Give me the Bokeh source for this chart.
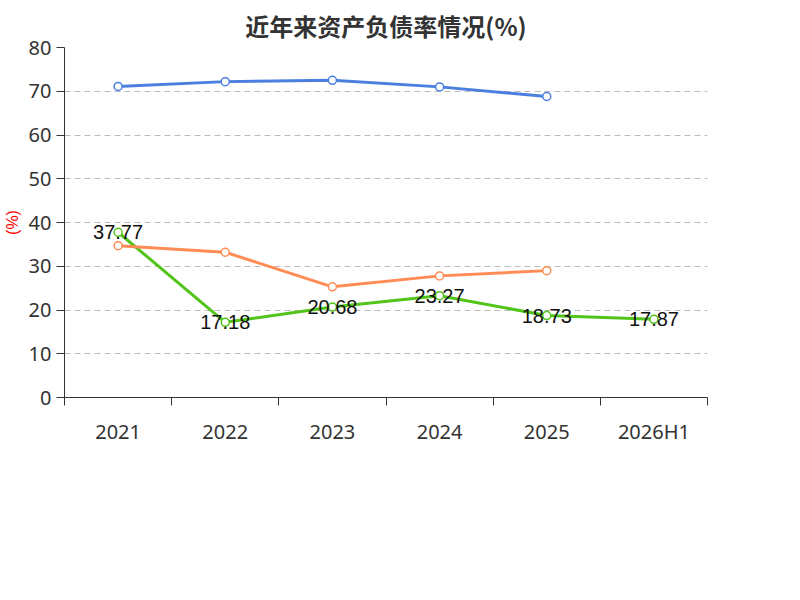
from bokeh.plotting import figure
from bokeh.models import FixedTicker, Legend, LegendItem, Title, ColumnDataSource, Range1d
from bokeh.embed import file_html
from bokeh.resources import INLINE

categories = ["2021", "2022", "2023", "2024", "2025", "2026H1"]
company = [37.77, 17.18, 20.68, 23.27, 18.73, 17.87]
industry_avg = [71.1, 72.2, 72.5, 71.0, 68.8]
industry_median = [34.7, 33.2, 25.3, 27.8, 29.0]

xc = [i + 0.5 for i in range(len(categories))]

p = figure(frame_width=643, frame_height=350, output_backend="svg", toolbar_location=None,
           x_range=Range1d(0, 6), y_range=Range1d(0, 80),
           min_border_left=10, min_border_right=24, min_border_top=30, min_border_bottom=0)
p.outline_line_color = None
p.background_fill_color = "white"

p.title.text = "近年来资产负债率情况(%)"
p.title.align = "center"
p.title.text_font_size = "24px"
p.title.text_font = "Noto Sans CJK SC"
p.title.text_color = "#333333"
p.title.offset = -20

p.xgrid.visible = False
p.ygrid.grid_line_dash = "6 4"
p.ygrid.grid_line_color = "#bbbbbb"
p.yaxis.ticker = FixedTicker(ticks=list(range(0, 90, 10)))
p.yaxis.axis_line_color = "#333333"
p.yaxis.major_tick_line_color = "#333333"
p.yaxis.major_tick_out = 8
p.yaxis.major_tick_in = 0
p.yaxis.minor_tick_line_color = None
p.yaxis.major_label_text_font_size = "20px"
p.yaxis.major_label_text_font = "Noto Sans"
p.yaxis.major_label_text_color = "#333333"
p.yaxis.axis_label = "(%)"
p.yaxis.axis_label_text_color = "red"
p.yaxis.axis_label_text_font_size = "16px"
p.yaxis.axis_label_text_font_style = "normal"

p.xaxis.ticker = FixedTicker(ticks=xc, minor_ticks=list(range(0, 7)))
p.xaxis.major_label_overrides = {x: c for x, c in zip(xc, categories)}
p.xaxis.major_tick_out = 0
p.xaxis.major_tick_in = 0
p.xaxis.minor_tick_out = 8
p.xaxis.minor_tick_in = 0
p.xaxis.minor_tick_line_color = "#333333"
p.xaxis.axis_line_color = "#333333"
p.xaxis.major_label_text_font_size = "20px"
p.xaxis.major_label_text_font = "Noto Sans"
p.xaxis.major_label_text_color = "#333333"
p.xaxis.major_label_standoff = 12

green, blue, orange = "#52c41a", "#4a7fe0", "#ff8c55"
l1 = p.line(xc, company, line_color=green, line_width=3)
c1 = p.scatter(xc, company, size=8, fill_color="white", line_color=green, line_width=1.5)
l2 = p.line(xc[:5], industry_avg, line_color=blue, line_width=3)
c2 = p.scatter(xc[:5], industry_avg, size=8, fill_color="white", line_color=blue, line_width=1.5)
l3 = p.line(xc[:5], industry_median, line_color=orange, line_width=3)
c3 = p.scatter(xc[:5], industry_median, size=8, fill_color="white", line_color=orange, line_width=1.5)

src = ColumnDataSource(dict(x=xc, y=company, t=[f"{v:.2f}" for v in company]))
p.text("x", "y", text="t", source=src, text_align="center", text_baseline="middle",
       text_font_size="20px", text_font=value_font if False else None, text_color="#111111") if False else \
p.text("x", "y", text="t", source=src, text_align="center", text_baseline="middle",
       text_font_size="20px", text_color="#111111")

leg = Legend(items=[LegendItem(label="公司资产负债率", renderers=[l1, c1]),
                    LegendItem(label="行业均值", renderers=[l2, c2]),
                    LegendItem(label="行业中位数", renderers=[l3, c3])],
             orientation="horizontal", location="center", border_line_color=None,
             label_text_font_size="20px", label_text_color="#333333",
             label_text_font="Noto Sans CJK SC",
             glyph_width=50, glyph_height=20, spacing=25, margin=10, padding=5)
p.add_layout(leg, "below")
p.add_layout(Title(text="制图数据来自恒生聚源数据库", align="center", text_color="#c8962a",
                   text_font_size="15px", text_font_style="normal",
                   text_font="Noto Sans CJK SC"), "below")

open("out.html", "w").write(file_html(p, INLINE))
